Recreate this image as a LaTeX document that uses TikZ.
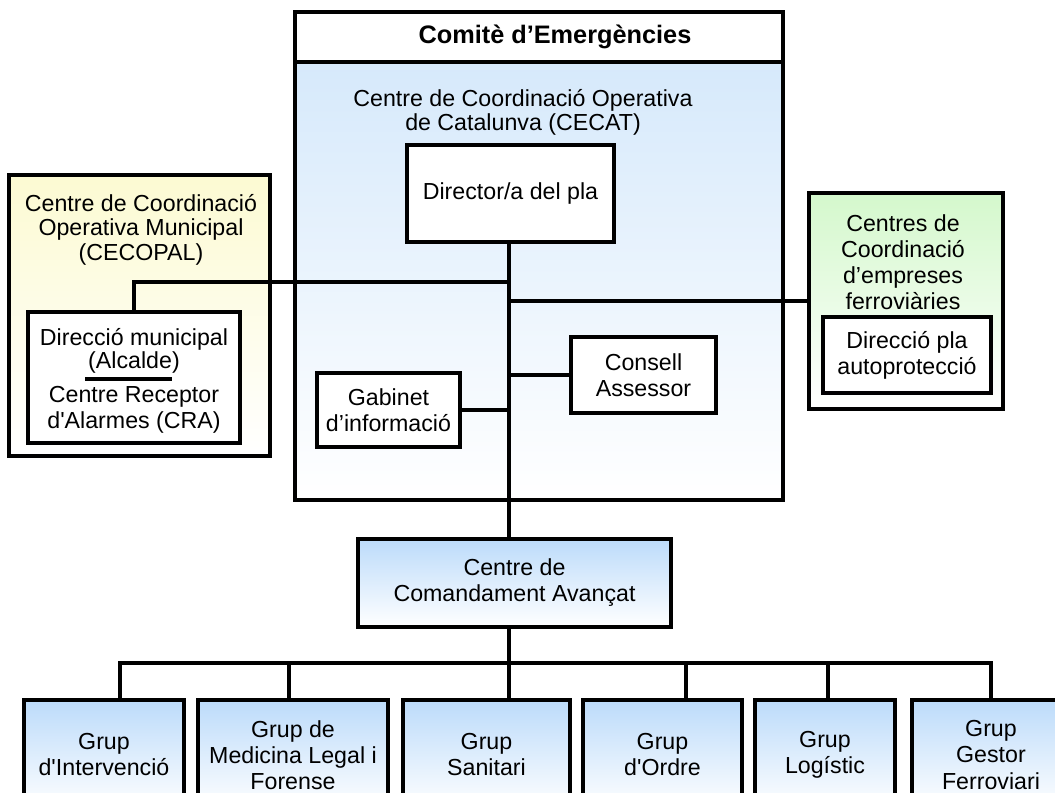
\documentclass[tikz,border=0pt]{standalone}
\usepackage{fontspec}
\setmainfont{Liberation Sans}
\usepackage{tikz}
\definecolor{cecatblue}{RGB}{214,233,251}
\definecolor{grupblue}{RGB}{188,219,250}
\definecolor{cecopalyellow}{RGB}{252,250,210}
\definecolor{ccefgreen}{RGB}{212,248,204}

\begin{document}
\begin{tikzpicture}[
  txt/.style={font=\fontsize{16.5}{18.5}\selectfont, align=center},
  box/.style={txt, draw, line width=2.5pt, fill=white, inner sep=0pt},
  grup/.style={box, top color=grupblue, bottom color=white},
  wire/.style={line width=2.5pt}
]
\useasboundingbox (0,0) rectangle (26.375,-19.825);
\clip (0,0) rectangle (26.375,-19.825);

% CECAT
\node[box, top color=cecatblue, bottom color=white, minimum width=12.2cm, minimum height=10.95cm] (cecat) at (13.475,-7.025) {};
\node[box, minimum width=12.2cm, minimum height=1.25cm, font=\fontsize{18}{20}\selectfont\bfseries] (comite) at (13.475,-0.925) {\hspace{0.8cm}Comitè d’Emergències};
\node[txt, font=\fontsize{16.5}{17}\selectfont] (cecatlabel) at (13.075,-2.8) {Centre de Coordinació Operativa\\de Catalunva (CECAT)};
\node[box, minimum width=5.175cm, minimum height=2.425cm] (director) at (12.7625,-4.8375) {Director/a del pla};
\node[box, minimum width=3.625cm, minimum height=1.9cm] (consell) at (16.0875,-9.375) {Consell\\Assessor};
\node[box, minimum width=3.575cm, minimum height=1.85cm] (gabinet) at (9.7125,-10.25) {Gabinet\\d’informació};

% CECOPAL
\node[box, top color=cecopalyellow, bottom color=white, minimum width=6.525cm, minimum height=7.025cm] (cecopal) at (3.4875,-7.8875) {};
\node[txt, font=\fontsize{16.5}{17.5}\selectfont] (cecopallabel) at (3.525,-5.74) {Centre de Coordinació\\Operativa Municipal\\(CECOPAL)};
\node[box, minimum width=5.3cm, minimum height=3.275cm] (dirmun) at (3.35,-9.4375) {};
\node[txt, font=\fontsize{16.5}{16.5}\selectfont] (alcalde) at (3.35,-8.775) {Direcció municipal\\(Alcalde)};
\node[txt] (cra) at (3.35,-10.25) {Centre Receptor\\d\textquotesingle Alarmes (CRA)};
\draw[wire] (2.125,-9.475) -- (4.3,-9.475);

% empreses ferroviaries
\node[box, top color=ccefgreen, bottom color=white, minimum width=4.85cm, minimum height=5.4cm] (ccef) at (22.65,-7.525) {};
\node[txt] (ccef label) at (22.575,-6.55) {Centres de\\Coordinació\\d’empreses\\ferroviàries};
\node[box, minimum width=4.2cm, minimum height=1.9cm] (dirpla) at (22.675,-8.875) {Direcció pla\\autoprotecció};

% CCA and groups
\node[grup, minimum width=7.825cm, minimum height=2.2cm] (cca) at (12.8625,-14.575) {Centre de\\Comandament Avançat};
\foreach \g/\x/\w/\t in {g1/2.6/4.0/{Grup\\d\textquotesingle Intervenció},
    g2/7.325/4.75/{Grup de\\Medicina Legal i\\Forense},
    g3/12.1625/4.175/{Grup\\Sanitari},
    g4/16.5625/3.975/{Grup\\d\textquotesingle Ordre},
    g5/20.625/3.5/{Grup\\Logístic},
    g6/24.775/3.95/{Grup\\Gestor\\Ferroviari}}
  \node[grup, minimum width=\w cm, minimum height=2.75cm] (\g) at (\x,-18.875) {\t};

% connectors
\coordinate (bus) at (12.725,-16.575);
\coordinate (jleft) at (12.725,-7.05);
\draw[wire] (bus |- director.south) -- (bus |- cca.north);
\draw[wire] (bus |- cca.south) -- (bus);
\foreach \g/\dx in {g1/0.4, g2/-0.1, g3/0.5625, g4/0.5875, g5/0.075, g6/0}
  \draw[wire] ([xshift=\dx cm]\g.north) |- (bus);
\draw[wire] (jleft) -| (dirmun.north);
\draw[wire] (ccef.west) -- (ccef.west -| bus);
\draw[wire] (consell.west) -- (consell.west -| bus);
\draw[wire] (gabinet.east) -- (gabinet.east -| bus);
\end{tikzpicture}
\end{document}
